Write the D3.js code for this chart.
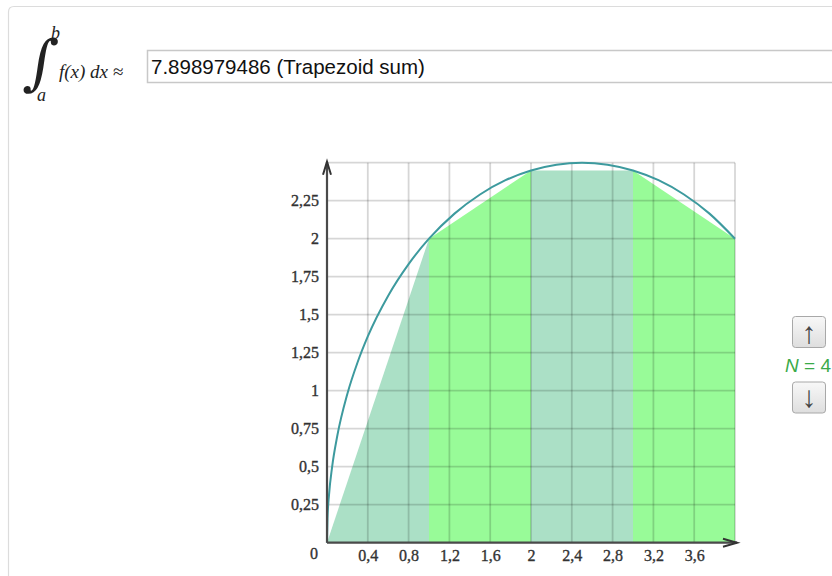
<!DOCTYPE html>
<html>
<head>
<meta charset="utf-8">
<script src="https://cdn.jsdelivr.net/npm/d3@7"></script>
<style>
  body { margin: 0; background: #fff; }
  .tick-label { font-family: "Liberation Serif", "DejaVu Serif", serif; font-size: 16px; fill: #333; stroke: #333; stroke-width: 0.35px; }
</style>
</head>
<body>
<div id="chart"></div>
<script>
//== DATA ================================================//
// sampled curve f(x), read off the picture
var curveX = [0, 0.005, 0.02, 0.05, 0.1, 0.2, 0.3, 0.4, 0.6, 0.8, 1, 1.25, 1.5, 1.75, 2, 2.25, 2.5, 2.75, 3, 3.25, 3.5, 3.75, 4];
var curveY = [0, 0.158, 0.316, 0.498, 0.7, 0.98, 1.187, 1.357, 1.625, 1.833, 2, 2.165, 2.291, 2.385, 2.449, 2.487, 2.5, 2.487, 2.449, 2.385, 2.291, 2.165, 2];

// trapezoid nodes (N = 4)
var nodeX = [0, 1, 2, 3, 4];
var nodeY = [0, 2, 2.449, 2.449, 2];

var xTicks = [0.4, 0.8, 1.2, 1.6, 2, 2.4, 2.8, 3.2, 3.6];
var yTicks = [0.25, 0.5, 0.75, 1, 1.25, 1.5, 1.75, 2, 2.25];
var xGrid = [0.4, 0.8, 1.2, 1.6, 2, 2.4, 2.8, 3.2, 3.6, 4];
var yGrid = [0.25, 0.5, 0.75, 1, 1.25, 1.5, 1.75, 2, 2.25, 2.5];

var sumText = "7.898979486 (Trapezoid sum)";
var nLabel = "4";

// Define color scheme.
var colors = ["#abe0c6", "#98fb98"];

//== PAGE ================================================//
var W = 832, H = 576;
var svg = d3.select("#chart")
    .append("svg")
    .attr("width", W)
    .attr("height", H);

// card border
svg.append("path")
    .attr("d", "M8.5," + H + " L8.5,12 Q8.5,6.5 14,6.5 L" + (W + 5) + ",6.5")
    .attr("fill", "none")
    .attr("stroke", "#dcdcdc")
    .attr("stroke-width", 1.2);

// integral sign (slightly slanted)
svg.append("text")
    .attr("transform", "translate(23,83) skewX(-7)")
    .attr("font-family", "DejaVu Serif, serif")
    .attr("font-size", 60)
    .attr("fill", "#222")
    .text("\u222B");
svg.append("text")
    .attr("x", 51).attr("y", 39)
    .attr("font-family", "Liberation Serif, serif")
    .attr("font-style", "italic")
    .attr("font-size", 18)
    .attr("fill", "#222")
    .text("b");
svg.append("text")
    .attr("x", 37).attr("y", 101)
    .attr("font-family", "Liberation Serif, serif")
    .attr("font-style", "italic")
    .attr("font-size", 18)
    .attr("fill", "#222")
    .text("a");
svg.append("text")
    .attr("x", 59).attr("y", 78)
    .attr("font-family", "Liberation Serif, serif")
    .attr("font-style", "italic")
    .attr("font-size", 19)
    .attr("fill", "#222")
    .text("f(x) dx \u2248");

// text field
svg.append("rect")
    .attr("x", 147.5).attr("y", 50.5)
    .attr("width", 720).attr("height", 32)
    .attr("fill", "#fff")
    .attr("stroke", "#c8c8c8")
    .attr("stroke-width", 1.5);
svg.append("text")
    .attr("x", 151).attr("y", 74)
    .attr("font-family", "Liberation Sans, Arial, sans-serif")
    .attr("font-size", 20.5)
    .attr("fill", "#111")
    .text(sumText);

//== PLOT ================================================//
var x = d3.scaleLinear().domain([0, 4]).range([327, 735]);
var y = d3.scaleLinear().domain([0, 2.5]).range([542.7, 162.7]);

// trapezoids
var traps = [];
for (var ii = 0; ii < nodeX.length - 1; ii++) {
    traps.push({
        x0: nodeX[ii], x1: nodeX[ii + 1],
        y0: nodeY[ii], y1: nodeY[ii + 1],
        c: colors[ii % 2]
    });
}
svg.append("g").selectAll("path")
    .data(traps)
    .join("path")
    .attr("d", function (d) {
        return "M" + x(d.x0) + "," + y(0) +
            "L" + x(d.x0) + "," + y(d.y0) +
            "L" + x(d.x1) + "," + y(d.y1) +
            "L" + x(d.x1) + "," + y(0) + "Z";
    })
    .attr("fill", function (d) { return d.c; });

// grid on top
var grid = svg.append("g")
    .attr("stroke", "rgba(0,0,0,0.16)")
    .attr("stroke-width", 1.8);
grid.selectAll(".gx")
    .data(xGrid)
    .join("line")
    .attr("x1", function (d) { return x(d); })
    .attr("x2", function (d) { return x(d); })
    .attr("y1", y(0))
    .attr("y2", y(2.5));
grid.selectAll(".gy")
    .data(yGrid)
    .join("line")
    .attr("x1", x(0))
    .attr("x2", x(4))
    .attr("y1", function (d) { return y(d); })
    .attr("y2", function (d) { return y(d); });

// curve
var curveData = curveX.map(function (v, i) { return { x: v, y: curveY[i] }; });
svg.append("path")
    .datum(curveData)
    .attr("d", d3.line()
        .x(function (d) { return x(d.x); })
        .y(function (d) { return y(d.y); })
        .curve(d3.curveMonotoneX))
    .attr("fill", "none")
    .attr("stroke", "#3d9a9e")
    .attr("stroke-width", 2);

// axes lines with arrows
var axisCol = "#4a4a4a";
svg.append("line")
    .attr("x1", x(0)).attr("x2", x(4) + 2)
    .attr("y1", y(0)).attr("y2", y(0))
    .attr("stroke", axisCol).attr("stroke-width", 2.2);
svg.append("path")
    .attr("d", "M" + (x(4) - 12) + "," + (y(0) - 4) + " L" + (x(4) + 2) + "," + y(0) + " L" + (x(4) - 12) + "," + (y(0) + 4))
    .attr("fill", "none").attr("stroke", "#333").attr("stroke-width", 2);
svg.append("line")
    .attr("x1", x(0)).attr("x2", x(0))
    .attr("y1", y(0)).attr("y2", y(2.5) - 1)
    .attr("stroke", axisCol).attr("stroke-width", 2.2);
svg.append("path")
    .attr("d", "M" + (x(0) - 4) + "," + (y(2.5) + 12) + " L" + x(0) + "," + (y(2.5) - 1) + " L" + (x(0) + 4) + "," + (y(2.5) + 12))
    .attr("fill", "none").attr("stroke", "#333").attr("stroke-width", 2);

// tick labels
var fmt = function (v) { return String(v).replace(".", ","); };
var xAxis = svg.append("g")
    .attr("transform", "translate(0," + (y(0) + 4) + ")")
    .call(d3.axisBottom(x).tickValues(xTicks).tickSize(0).tickFormat(fmt));
xAxis.select(".domain").remove();
xAxis.selectAll("text").attr("class", "tick-label").attr("font-size", null).attr("font-family", null).attr("fill", null);

var yAxis = svg.append("g")
    .attr("transform", "translate(" + (x(0) - 5) + ",0)")
    .call(d3.axisLeft(y).tickValues(yTicks).tickSize(0).tickFormat(fmt));
yAxis.select(".domain").remove();
yAxis.selectAll("text").attr("class", "tick-label").attr("font-size", null).attr("font-family", null).attr("fill", null);

svg.append("text")
    .attr("class", "tick-label")
    .attr("x", x(0) - 13).attr("y", y(0) + 16)
    .attr("text-anchor", "middle")
    .text("0");

//== CONTROLS ============================================//
var grad = svg.append("defs").append("linearGradient")
    .attr("id", "btn").attr("x1", 0).attr("x2", 0).attr("y1", 0).attr("y2", 1);
grad.append("stop").attr("offset", "0%").attr("stop-color", "#f8f8f8");
grad.append("stop").attr("offset", "100%").attr("stop-color", "#dedede");

var buttons = [{ y: 316.5, t: "\u2191", dy: 26 }, { y: 382, t: "\u2193", dy: 25 }];
svg.selectAll(".btn")
    .data(buttons)
    .join("rect")
    .attr("x", 792.5).attr("y", function (d) { return d.y; })
    .attr("width", 33).attr("height", 31).attr("rx", 3)
    .attr("fill", "url(#btn)")
    .attr("stroke", "#a8a8a8");
svg.selectAll(".btnt")
    .data(buttons)
    .join("text")
    .attr("x", 809).attr("y", function (d) { return d.y + d.dy; })
    .attr("text-anchor", "middle")
    .attr("font-family", "Liberation Sans, DejaVu Sans, sans-serif")
    .attr("font-size", 30)
    .attr("fill", "#444")
    .text(function (d) { return d.t; });

var nt = svg.append("text")
    .attr("x", 785).attr("y", 372)
    .attr("font-family", "Liberation Sans, Arial, sans-serif")
    .attr("font-size", 19)
    .attr("fill", "#3aaa48");
nt.append("tspan").attr("font-style", "italic").text("N");
nt.append("tspan").text(" = " + nLabel);
</script>
</body>
</html>
